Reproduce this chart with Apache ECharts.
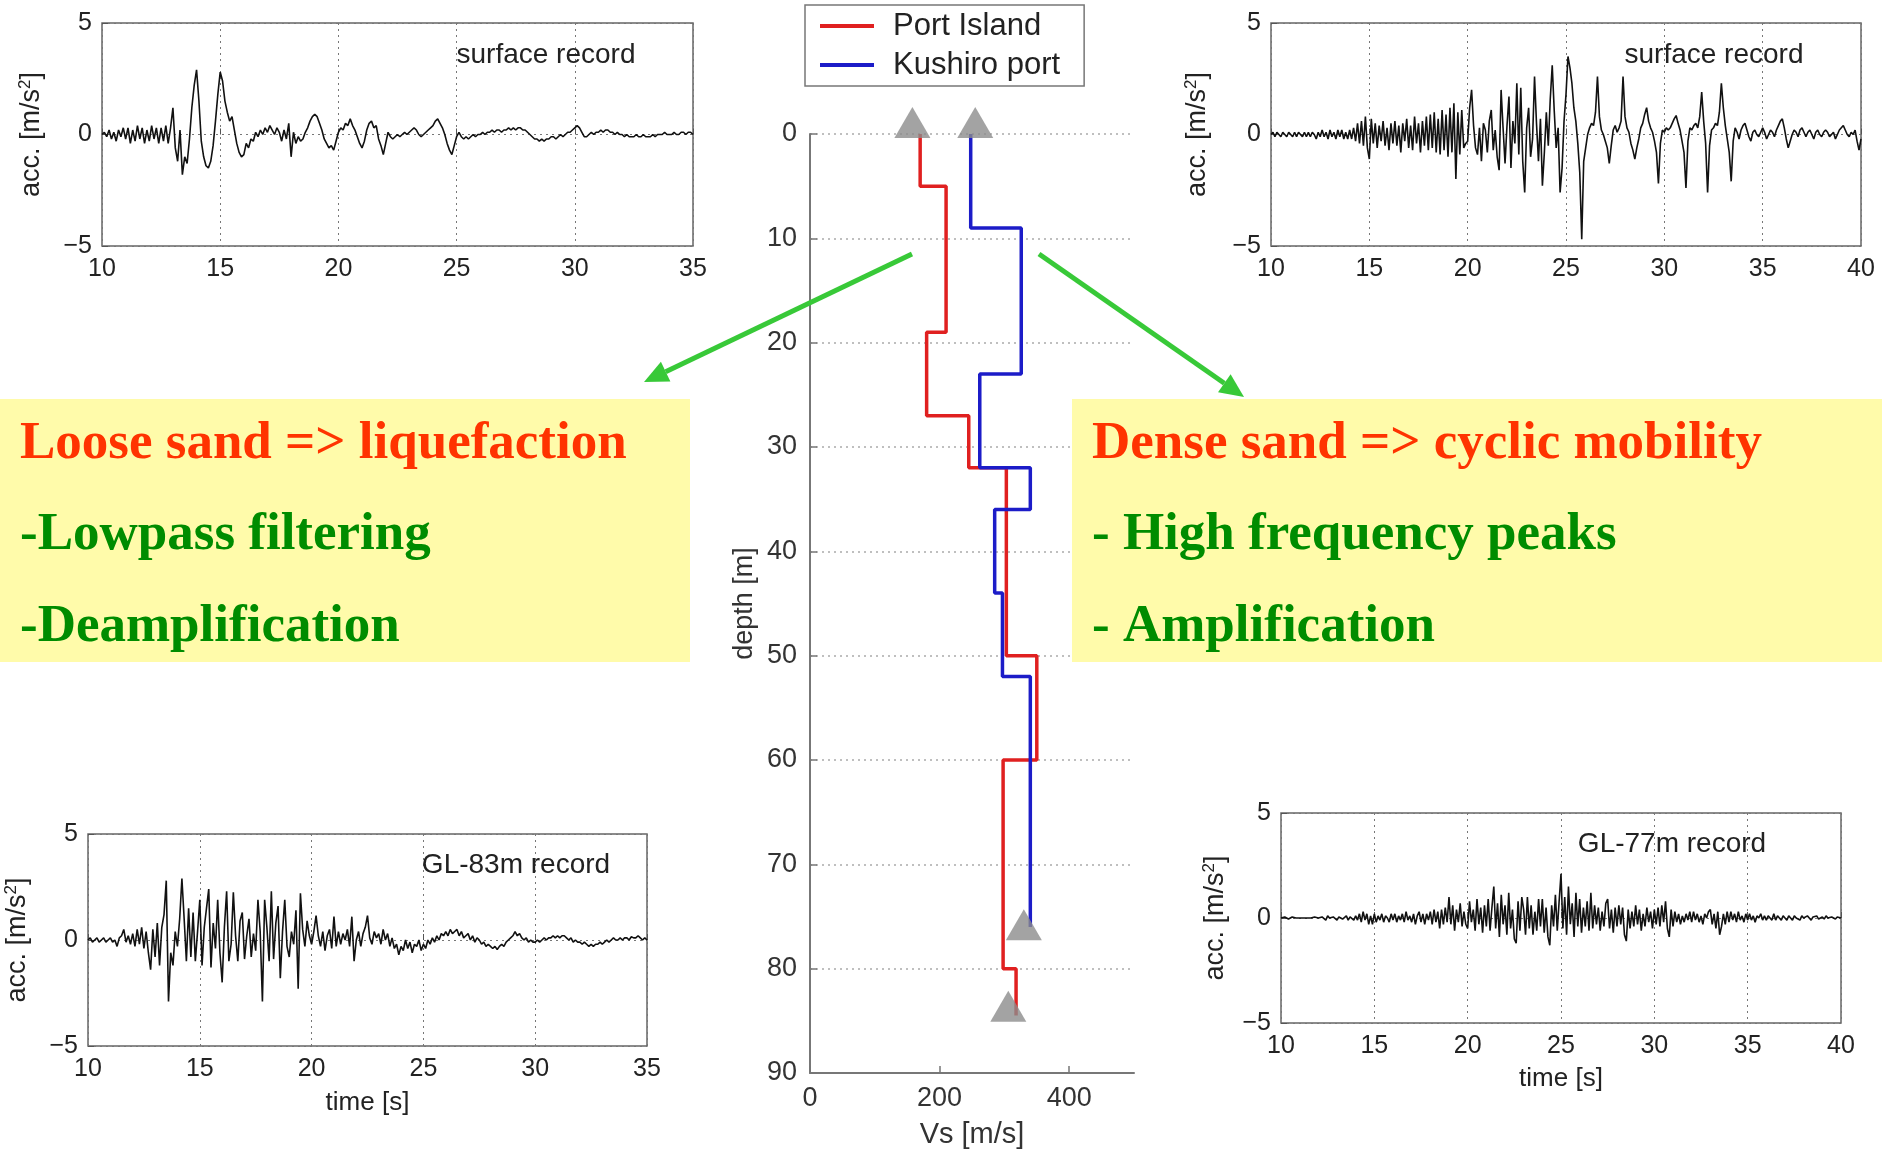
<!DOCTYPE html>
<html>
<head>
<meta charset="utf-8">
<script src="https://cdn.jsdelivr.net/npm/echarts@6/dist/echarts.min.js"></script>
<style>
  html, body { margin: 0; padding: 0; background: #fff; }
  #main { width: 1882px; height: 1159px; }
</style>
</head>
<body>
<div id="main"></div>
<script>
  // sampling step of the records, seconds
  var T_STEP = 0.1;

  // Port Island, surface record, 10 .. 35 s
  var portSurfaceStart = 10;
  var portSurface = [
    0, 0.1, -0.1, 0.2, -0.2, 0.1, -0.3, 0.2, -0.1, 0.3,
    -0.2, 0.3, -0.4, 0.2, -0.3, 0.4, -0.2, 0.3, -0.4, 0.2,
    -0.3, 0.4, -0.2, 0.3, -0.4, 0.3, -0.3, 0.4, -0.4, 0.3,
    1.2, -0.6, -1.2, 0.2, -1.8, -1.0, -1.3, -0.2, 1.2, 2.2,
    2.9, 1.5, -0.3, -1.0, -1.4, -1.5, -1.2, -0.5, 0.6, 1.8,
    2.8, 2.4, 1.5, 1.0, 0.6, 0.8, 0.2, -0.4, -0.8, -1.0,
    -0.9, -0.4, -0.6, -0.2, -0.3, 0.1, -0.1, 0.2, 0.0, 0.3,
    0.1, 0.4, 0.2, 0.0, 0.3, 0.1, -0.3, 0.2, -0.2, 0.5,
    -1.0, 0.1, -0.4, -0.1, -0.3, -0.2, 0.1, 0.3, 0.6, 0.8,
    0.9, 0.8, 0.5, 0.2, -0.2, -0.4, -0.6, -0.5, -0.7, -0.3,
    0.1, 0.3, 0.2, 0.5, 0.4, 0.7, 0.4, 0.2, -0.1, -0.4,
    -0.6, -0.3, 0.2, 0.5, 0.6, 0.3, 0.4, -0.2, -0.5, -0.9,
    -0.4, 0.1, -0.1, -0.2, -0.1, 0.0, -0.1, 0.0, 0.1, 0.0,
    0.1, 0.2, 0.3, 0.2, 0.0, -0.1, 0.0, 0.1, 0.2, 0.3,
    0.4, 0.6, 0.7, 0.5, 0.3, 0.0, -0.4, -0.7, -0.9, -0.5,
    -0.1, 0.1, -0.1, -0.2, -0.1, -0.2, -0.1, 0.0, -0.1, 0.0,
    0.0, 0.1, 0.0, 0.1, 0.1, 0.2, 0.1, 0.2, 0.2, 0.1,
    0.2, 0.2, 0.3, 0.2, 0.3, 0.2, 0.3, 0.3, 0.2, 0.2,
    0.1, 0.0, -0.1, -0.2, -0.2, -0.3, -0.2, -0.3, -0.2, -0.2,
    -0.1, -0.1, -0.2, -0.1, 0.0, -0.1, 0.0, 0.1, 0.1, 0.2,
    0.3, 0.4, 0.3, 0.1, -0.1, -0.1, 0.0, 0.1, 0.0, 0.1,
    0.1, 0.2, 0.1, 0.2, 0.2, 0.1, 0.1, 0.0, 0.1, 0.0,
    0.0, -0.1, 0.0, -0.1, -0.1, -0.1, 0.0, -0.1, -0.1, 0.0,
    -0.1, -0.1, -0.1, 0.0, -0.1, 0.0, 0.0, 0.0, 0.1, 0.0,
    0.0, 0.0, 0.1, 0.0, 0.0, 0.1, 0.1, 0.0, 0.1, 0.1,
    0.0
  ];

  // Kushiro port, surface record, 10 .. 40 s
  var kushSurfaceStart = 10;
  var kushSurface = [
    0, 0.1, -0.1, 0.1, 0, -0.1, 0.1, 0, -0.1, 0.1,
    0, -0.1, 0.1, -0.1, 0.1, 0, -0.1, 0.1, -0.1, 0.1,
    -0.1, 0.1, 0, -0.2, 0.1, -0.1, 0.2, -0.1, 0.1, -0.2,
    0.2, -0.1, 0.1, -0.2, 0.2, -0.1, 0.2, -0.2, 0.1, -0.2,
    0.2, -0.2, 0.3, -0.3, 0.5, -0.4, 0.6, -0.5, 0.8, -0.6,
    -1.1, 0.7, -0.4, 0.5, -0.6, 0.4, -0.3, 0.6, -0.5, 0.3,
    -0.7, 0.5, -0.4, 0.6, -0.5, 0.4, -0.8, 0.5, -0.3, 0.7,
    -0.6, 0.4, -0.7, 0.8, -0.4, 0.5, -0.8, 0.6, -0.5, 0.8,
    -0.7, 0.9, -0.6, 1.0, -0.8, 0.7, -0.9, 1.1, -0.7, 0.9,
    -1.0, 1.2, -0.8, 1.4, -2.0, 1.0, -0.9, 1.1, -0.6, -0.4,
    -0.3, 1.2, 2.0, 0.4, -0.6, -0.9, 0.3, -1.2, 0.5, 0.2,
    -0.8, 0.6, 1.1, -0.7, 0.2, -1.0, -1.6, 2.0, 0.3, -1.3,
    0.4, 1.7, -1.5, 0.6, -0.4, 2.3, -0.9, 2.1, -1.2, -2.6,
    0.3, 1.2, -1.0, -0.2, 2.6, 0.5, -1.2, 0.7, -2.3, -0.8,
    1.0, -0.5, 1.6, 3.1, 1.1, -0.6, 0.3, -2.6, -1.5, 0.6,
    1.8, 3.5, 3.0, 2.3, 1.2, 0.6, -0.4, -1.7, -4.7, -1.2,
    -0.6, 0.0, 0.3, 0.5, 0.4, 1.0, 2.6, 0.8, 0.2, 0.0,
    -0.3, -0.6, -1.3, -0.5, 0.2, 0.4, 0.1, 0.3, 0.6, 2.6,
    0.8, 0.3, 0.1, -0.4, -0.7, -1.1, -0.6, -0.2, 0.3, 0.5,
    0.9, 1.2, 0.6, 0.3, 0.1, -0.3, -0.8, -2.2, -0.4, 0.2,
    0.1, 0.3, 0.2, 0.3, 0.5, 0.7, 0.85, 0.5, 0.2, -0.3,
    -0.8, -2.4, -0.3, 0.3, 0.2, 0.4, 0.5, 0.3, 0.8, 1.9,
    0.6, -0.4, -2.6, -0.5, 0.2, 0.3, 0.5, 0.4, 1.0, 2.3,
    1.2, 0.4, -0.2, -0.8, -2.1, -0.3, 0.3, 0.1, -0.2, 0.2,
    0.4, 0.5, 0.2, -0.1, -0.3, 0.1, 0.2, 0.0, -0.1, 0.1,
    0.3, 0.1, -0.2, 0.0, 0.2, 0.1, -0.1, 0.2, 0.4, 0.6,
    0.7, 0.3, -0.2, -0.6, -0.3, 0.0, 0.2, 0.1, -0.1, 0.2,
    0.3, 0.1, -0.1, 0.1, 0.2, 0.0, -0.2, 0.1, 0.2, 0.0,
    -0.1, 0.1, 0.2, 0.1, -0.1, 0.0, 0.1, -0.2, 0.0, 0.2,
    0.3, 0.4, 0.2, 0.0, -0.1, 0.1, 0.0, 0.2, -0.3, -0.7,
    -0.2
  ];

  // Port Island, GL-83m record, 10 .. 35 s
  var port83Start = 10;
  var port83 = [
    0, 0.1, -0.1, 0, 0.1, -0.1, 0, 0.1, -0.1, 0,
    0.1, -0.1, 0.0, -0.3, 0.1, 0.2, 0.5, -0.1, 0.2, -0.2,
    0.3, -0.3, 0.5, -0.2, 0.6, -0.4, 0.4, -0.6, -1.4, 0.5,
    -0.8, 0.8, -1.2, 0.6, 1.2, 2.8, -2.9, -0.6, -1.2, 0.4,
    -0.3, 1.0, 2.9, 1.0, -1.0, 1.5, -0.8, 1.3, -1.0, 0.4,
    1.9, -1.2, 0.6, 1.5, 2.4, -1.3, 0.8, -0.4, 1.9, -0.6,
    -2.0, 0.6, 2.3, -1.0, -0.2, 2.25, 0.2, -1.0, 0.9, 1.3,
    -0.9, 0.2, 1.0, -0.8, 0.3, -0.5, 1.9, 0.4, -2.9, 1.9,
    0.6, -1.0, 2.3, -0.9, 0.8, 1.6, -1.8, 0.4, 1.9, -0.3,
    -0.8, 0.4, -0.2, 1.4, -2.3, 2.2, 0.5, -0.3, 0.9, 0.2,
    -0.2, 0.4, 1.15, 0.2, -0.3, 0.4, -0.5, 0.2, 0.5, -0.4,
    1.1, -0.3, 0.4, -0.2, 0.3, 0.0, 0.5, -0.3, 1.1, -1.0,
    0.0, 0.4, -0.3, 0.3, 0.6, 1.15, 0.1, -0.2, 0.4, 0.1,
    0.3, -0.2, 0.5, 0.0, 0.3, -0.3, 0.1, -0.4, -0.2, -0.7,
    -0.3, -0.5, 0.0, -0.4, -0.1, -0.6, -0.2, -0.3, 0.0, -0.5,
    -0.2, -0.4, 0.0, -0.2, 0.1, -0.1, 0.2, 0.0, 0.3, 0.2,
    0.4, 0.2, 0.5, 0.3, 0.4, 0.5, 0.2, 0.4, 0.1, 0.2,
    0.3, 0.0, 0.2, -0.1, 0.1, 0.0, -0.2, -0.1, -0.3, -0.2,
    -0.3, -0.4, -0.3, -0.45, -0.3, -0.2, -0.3, -0.1, 0.0, 0.1,
    0.2, 0.4, 0.2, 0.3, 0.1, 0.0, 0.1, -0.1, 0.0, -0.1,
    -0.1, 0.0, -0.1, 0.0, 0.1, 0.0, 0.1, 0.1, 0.2, 0.1,
    0.2, 0.1, 0.2, 0.2, 0.1, 0.0, 0.1, -0.1, 0.0, -0.1,
    -0.1, -0.2, -0.1, -0.2, -0.3, -0.2, -0.3, -0.2, -0.2, -0.1,
    -0.2, -0.1, 0.0, -0.1, 0.0, 0.1, 0.0, 0.0, 0.1, 0.0,
    0.1, 0.1, 0.0, 0.15, 0.1, 0.1, 0.2, 0.1, 0.0, 0.1,
    0.0
  ];

  // Kushiro port, GL-77m record, 10 .. 40 s
  var kush77Start = 10;
  var kush77 = [
    0, 0, 0.05, 0, -0.05, 0, 0.05, 0, 0, -0.05,
    0, 0.05, 0, -0.05, 0, 0.05, 0, -0.05, 0.05, 0,
    0, -0.05, 0.05, 0, -0.1, 0.1, 0, -0.05, 0.05, 0,
    -0.1, 0.05, 0.1, -0.05, 0, 0.1, -0.1, 0.05, 0, -0.1,
    0.1, -0.1, 0.2, -0.2, 0.3, -0.1, 0.2, -0.3, 0.1, -0.3,
    0.2, -0.2, 0.1, -0.1, 0.2, -0.2, 0.1, 0.0, -0.2, 0.2,
    -0.1, 0.2, -0.2, 0.1, -0.1, 0.2, -0.2, 0.3, -0.1, 0.1,
    -0.2, 0.2, -0.3, 0.1, 0.3, -0.2, 0.2, -0.3, 0.2, -0.1,
    0.3, -0.3, 0.4, -0.2, 0.3, -0.5, 0.4, -0.3, 0.5, -0.2,
    1.0, -0.3, 0.6, -0.6, 0.4, -0.2, 0.7, -0.4, 0.3, -0.3,
    -0.5, 0.8, -0.2, 0.4, -0.6, 0.9, -0.3, 0.5, -0.7, 0.6,
    -0.4, 0.9, -0.6, 0.5, 1.5, -0.5, 0.7, -0.9, 1.1, -0.3,
    0.6, -0.8, 1.2, -0.5, 0.4, -1.0, -1.2, 0.8, -0.6, 1.0,
    0.4, -0.8, 1.0, -0.5, 0.6, -0.8, 0.3, -0.6, 0.9, -0.4,
    0.9, -0.7, 0.5, -0.9, -1.3, 0.6, -0.4, 1.1, -0.6, 0.8,
    2.1, -0.5, 1.0, -0.8, 1.5, -0.3, 0.7, -0.9, 1.2, -0.4,
    0.9, -0.7, 0.5, -0.4, 0.8, -0.6, 1.2, -0.5, 0.6, -0.3,
    0.5, -0.6, 0.3, -0.4, 0.7, 0.9, -0.5, 0.4, -0.7, 0.5,
    -0.4, 0.6, -0.3, 0.5, -0.8, -1.1, 0.4, -0.5, 0.3, -0.4,
    0.6, -0.3, 0.4, -0.6, 0.2, -0.4, 0.5, -0.2, 0.3, -0.5,
    0.4, -0.3, 0.5, -0.4, 0.6, -0.2, 0.8, -0.5, -0.9, 0.4,
    -0.4, 0.3, -0.2, 0.2, -0.3, 0.1, -0.2, 0.2, -0.1, 0.3,
    -0.2, 0.3, -0.1, 0.2, -0.2, 0.1, -0.3, 0.2, 0.0, 0.3,
    0.4, -0.3, 0.2, -0.5, 0.3, -0.8, -0.4, 0.2, -0.3, 0.3,
    -0.2, 0.3, -0.1, 0.2, -0.2, 0.3, -0.1, 0.1, -0.2, 0.2,
    -0.1, 0.2, -0.1, 0.1, -0.2, 0.1, 0.0, 0.2, -0.1, 0.1,
    -0.1, 0.1, 0.0, -0.1, 0.2, -0.1, 0.1, 0.0, -0.1, 0.1,
    0.0, -0.1, 0.1, 0.0, -0.1, 0.1, 0.0, 0.05, -0.1, 0.1,
    0.0, -0.05, 0.1, 0.0, -0.1, 0.05, 0.0, 0.1, -0.05, 0.0,
    0.05, -0.05, 0.1, 0.0, -0.05, 0.05, 0.0, -0.05, 0.05, 0.0,
    0.0
  ];

  // Vs profiles: layer top depth [m], layer Vs [m/s], bottom of the log
  var portLayerTop = [0, 5, 19, 27, 32, 50, 60, 80];
  var portVs       = [170, 210, 180, 245, 303, 350, 298, 318];
  var portBottom   = 84.5;
  var kushLayerTop = [0, 9, 23, 32, 36, 44, 52];
  var kushVs       = [248, 326, 262, 340, 285, 297, 340];
  var kushBottom   = 76;

  // seismometers (grey triangles): Vs position, depth
  var sensorVs    = [158, 255, 330, 306];
  var sensorDepth = [-1.1, -1.1, 75.8, 83.6];

  var FONT = 'Liberation Sans, Arial, sans-serif';
  var SERIF = '"Liberation Serif", "Times New Roman", serif';
  var YELLOW = '#fffbaa';
  var GREEN_ARROW = '#38c938';

  function trace(arr, t0) {
    return arr.map(function (v, i) {
      return [+(t0 + i * T_STEP).toFixed(2), v];
    });
  }

  function staircase(tops, vs, bottom) {
    var pts = [];
    for (var i = 0; i < tops.length; i++) {
      var next = i + 1 < tops.length ? tops[i + 1] : bottom;
      pts.push([vs[i], tops[i]]);
      pts.push([vs[i], next]);
    }
    return pts;
  }

  function arrow(x1, y1, x2, y2) {
    var dx = x2 - x1, dy = y2 - y1;
    var len = Math.sqrt(dx * dx + dy * dy);
    var ux = dx / len, uy = dy / len;
    var hl = 24, hw = 11;
    var bx = x2 - ux * hl, by = y2 - uy * hl;
    return [
      { type: 'line', z: 60, shape: { x1: x1, y1: y1, x2: bx, y2: by },
        style: { stroke: GREEN_ARROW, lineWidth: 5 } },
      { type: 'polygon', z: 60,
        shape: { points: [[x2, y2], [bx - uy * hw, by + ux * hw], [bx + uy * hw, by - ux * hw]] },
        style: { fill: GREEN_ARROW } }
    ];
  }

  function label(text, x, y, size, color, align) {
    return {
      type: 'text', z: 55, x: x, y: y,
      style: { text: text, fill: color, align: align || 'left', verticalAlign: 'middle',
               font: 'bold ' + size + 'px ' + SERIF }
    };
  }

  function recordLabel(text, x, y) {
    return {
      type: 'text', z: 30, x: x, y: y,
      style: { text: text, fill: '#222', align: 'center', verticalAlign: 'middle',
               font: '28px ' + FONT }
    };
  }

  // time axis of the small record panels
  function timeAxis(grid, max, withName, gap) {
    return {
      type: 'value', gridIndex: grid, min: 10, max: max, interval: 5,
      axisLine: { show: false },
      axisTick: { inside: true, length: 6, lineStyle: { color: '#555' } },
      axisLabel: { fontSize: 25, color: '#222', margin: 11, fontFamily: FONT },
      splitLine: { show: true, lineStyle: { type: [2, 4], color: '#777', width: 1 } },
      name: withName ? 'time [s]' : '', nameLocation: 'middle', nameGap: gap || 40,
      nameTextStyle: { fontSize: 26, color: '#222', fontFamily: FONT }
    };
  }

  function accAxis(grid, gap) {
    return {
      type: 'value', gridIndex: grid, min: -5, max: 5, interval: 5,
      axisLine: { show: false },
      axisTick: { inside: true, length: 6, lineStyle: { color: '#555' } },
      axisLabel: { fontSize: 25, color: '#222', margin: 10, fontFamily: FONT,
                   formatter: function (v) { return String(v).replace('-', '\u2212'); } },
      splitLine: { show: true, lineStyle: { type: [2, 4], color: '#777', width: 1 } },
      name: 'acc. [m/s{s|2}]', nameLocation: 'middle', nameRotate: 90, nameGap: gap,
      nameTextStyle: { fontSize: 27, color: '#222', fontFamily: FONT,
        rich: { s: { fontSize: 17, color: '#222', fontFamily: FONT, verticalAlign: 'bottom', padding: [0, 0, 13, 0] } } }
    };
  }

  function traceSeries(idx, data) {
    return {
      type: 'line', xAxisIndex: idx, yAxisIndex: idx, data: data,
      showSymbol: false, silent: true, animation: false,
      lineStyle: { color: '#111', width: 1.6 }
    };
  }

  var panelGrid = { show: true, borderColor: '#666', borderWidth: 1.5, backgroundColor: '#fff' };

  var chart = echarts.init(document.getElementById('main'));
  var option = {
    backgroundColor: '#fff',
    animation: false,
    textStyle: { fontFamily: FONT },
    legend: {
      left: 805, top: 5, orient: 'vertical',
      data: ['Port Island', 'Kushiro port'],
      icon: 'rect', itemWidth: 54, itemHeight: 4, itemGap: 5,
      padding: [4, 24, 4, 15],
      borderColor: '#777', borderWidth: 1.5, backgroundColor: '#fff',
      textStyle: { fontSize: 31, color: '#222', lineHeight: 34, padding: [0, 0, 0, 14], fontFamily: FONT }
    },
    grid: [
      Object.assign({ left: 102, top: 23, width: 591, height: 223 }, panelGrid),
      Object.assign({ left: 1271, top: 23, width: 590, height: 223 }, panelGrid),
      Object.assign({ left: 88, top: 834, width: 559, height: 212 }, panelGrid),
      Object.assign({ left: 1281, top: 813, width: 560, height: 210 }, panelGrid),
      { left: 810, top: 134, width: 324, height: 939, show: false }
    ],
    xAxis: [
      timeAxis(0, 35, false),
      timeAxis(1, 40, false),
      timeAxis(2, 35, true, 44),
      timeAxis(3, 40, true, 43),
      {
        type: 'value', gridIndex: 4, min: 0, max: 500, interval: 100,
        axisLine: { onZero: false, lineStyle: { color: '#777', width: 2 } },
        axisTick: { inside: true, length: 7, customValues: [0, 200, 400], lineStyle: { color: '#777', width: 1.5 } },
        axisLabel: { fontSize: 27, color: '#333', margin: 12, fontFamily: FONT, customValues: [0, 200, 400] },
        splitLine: { show: false },
        name: 'Vs [m/s]', nameLocation: 'middle', nameGap: 47,
        nameTextStyle: { fontSize: 29, color: '#333', fontFamily: FONT }
      }
    ],
    yAxis: [
      accAxis(0, 55),
      accAxis(1, 58),
      accAxis(2, 55),
      accAxis(3, 50),
      {
        type: 'value', gridIndex: 4, inverse: true, min: 0, max: 90, interval: 10,
        axisLine: { show: true, onZero: false, lineStyle: { color: '#777', width: 2 } },
        axisTick: { show: true, inside: true, length: 7, lineStyle: { color: '#777', width: 1.5 } },
        axisLabel: { fontSize: 27, color: '#333', margin: 13, fontFamily: FONT },
        splitLine: { show: true, lineStyle: { type: [2, 4], color: '#aaa', width: 1.5 } },
        name: 'depth [m]', nameLocation: 'middle', nameRotate: 90, nameGap: 52,
        nameTextStyle: { fontSize: 27, color: '#333', fontFamily: FONT }
      }
    ],
    series: [
      traceSeries(0, trace(portSurface, portSurfaceStart)),
      traceSeries(1, trace(kushSurface, kushSurfaceStart)),
      traceSeries(2, trace(port83, port83Start)),
      traceSeries(3, trace(kush77, kush77Start)),
      {
        name: 'Port Island', type: 'line', xAxisIndex: 4, yAxisIndex: 4,
        data: staircase(portLayerTop, portVs, portBottom),
        showSymbol: false, silent: true, color: '#e02020',
        lineStyle: { color: '#e02020', width: 3.5 }
      },
      {
        name: 'Kushiro port', type: 'line', xAxisIndex: 4, yAxisIndex: 4,
        data: staircase(kushLayerTop, kushVs, kushBottom),
        showSymbol: false, silent: true, color: '#1c1cc8',
        lineStyle: { color: '#1c1cc8', width: 3.5 }
      },
      {
        type: 'scatter', xAxisIndex: 4, yAxisIndex: 4, z: 5, clip: false, silent: true,
        symbol: 'triangle', symbolSize: [36, 31],
        itemStyle: { color: '#8c8c8c' },
        data: sensorVs.map(function (v, i) { return [v, sensorDepth[i]]; })
      }
    ],
    graphic: [
      recordLabel('surface record', 546, 55),
      recordLabel('surface record', 1714, 55),
      recordLabel('GL-83m record', 516, 865),
      recordLabel('GL-77m record', 1672, 844),
      { type: 'rect', z: 50, shape: { x: 0, y: 399, width: 690, height: 263 }, style: { fill: YELLOW } },
      { type: 'rect', z: 50, shape: { x: 1072, y: 399, width: 810, height: 263 }, style: { fill: YELLOW } },
      label('Loose sand => liquefaction', 20, 444, 53, '#ff3300'),
      label('-Lowpass filtering', 20, 535, 53, '#008c00'),
      label('-Deamplification', 20, 627, 53, '#008c00'),
      label('Dense sand => cyclic mobility', 1092, 444, 53, '#ff3300'),
      label('- High frequency peaks', 1092, 535, 53, '#008c00'),
      label('- Amplification', 1092, 627, 53, '#008c00')
    ].concat(arrow(912, 254, 644, 382), arrow(1039, 254, 1244, 397))
  };
  chart.setOption(option);
</script>
</body>
</html>
